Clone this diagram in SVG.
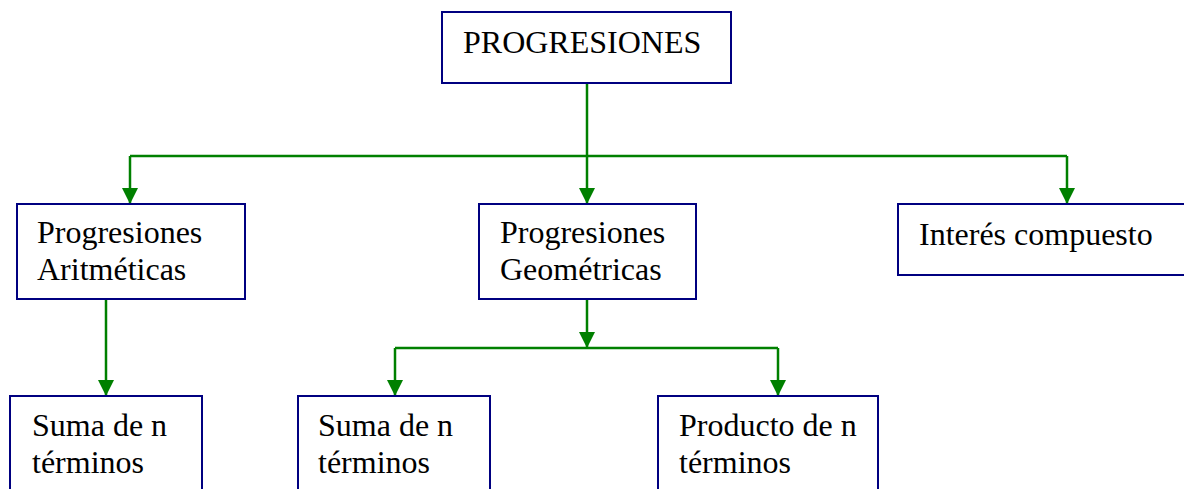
<svg xmlns="http://www.w3.org/2000/svg" width="1184" height="489" viewBox="0 0 1184 489">
<style>
.box{fill:#fff;stroke:#000080;stroke-width:2}
.t{font-family:"Liberation Serif",serif;font-size:32px;fill:#000}
.c{fill:none;stroke:#008000;stroke-width:2.5}
</style>
<defs>
<marker id="ah" viewBox="0 0 16 16" refX="16" refY="8" markerWidth="16" markerHeight="16" markerUnits="userSpaceOnUse" orient="auto">
<path d="M0,0 L16,8 L0,16 Z" fill="#008000"/>
</marker>
</defs>
<rect width="1184" height="489" fill="#fff"/>
<g id="connectors">
<line class="c" x1="587" y1="83" x2="587" y2="204" marker-end="url(#ah)"/>
<line class="c" x1="130" y1="156" x2="1067" y2="156"/>
<line class="c" x1="130" y1="156" x2="130" y2="204" marker-end="url(#ah)"/>
<line class="c" x1="1067" y1="156" x2="1067" y2="204" marker-end="url(#ah)"/>
<line class="c" x1="106" y1="299" x2="106" y2="396" marker-end="url(#ah)"/>
<line class="c" x1="587" y1="299" x2="587" y2="348" marker-end="url(#ah)"/>
<line class="c" x1="395" y1="348" x2="778" y2="348"/>
<line class="c" x1="395" y1="348" x2="395" y2="396" marker-end="url(#ah)"/>
<line class="c" x1="778" y1="348" x2="778" y2="396" marker-end="url(#ah)"/>
</g>
<g id="n-progresiones">
<rect class="box" x="442" y="12" width="289" height="71"/>
<text class="t" x="463" y="53">PROGRESIONES</text>
</g>
<g id="n-aritmeticas">
<rect class="box" x="17" y="204" width="228" height="95"/>
<text class="t" x="37" y="243">Progresiones</text>
<text class="t" x="37" y="280">Aritméticas</text>
</g>
<g id="n-geometricas">
<rect class="box" x="479" y="204" width="217" height="95"/>
<text class="t" x="500" y="243">Progresiones</text>
<text class="t" x="500" y="280">Geométricas</text>
</g>
<g id="n-interes">
<rect class="box" x="898" y="204" width="290" height="71"/>
<text class="t" x="919" y="245">Interés compuesto</text>
</g>
<g id="n-suma-a">
<rect class="box" x="10" y="396" width="192" height="100"/>
<text class="t" x="32" y="436">Suma de n</text>
<text class="t" x="32" y="473">términos</text>
</g>
<g id="n-suma-g">
<rect class="box" x="298" y="396" width="192" height="100"/>
<text class="t" x="318" y="436">Suma de n</text>
<text class="t" x="318" y="473">términos</text>
</g>
<g id="n-producto">
<rect class="box" x="658" y="396" width="220" height="100"/>
<text class="t" x="679" y="436">Producto de n</text>
<text class="t" x="679" y="473">términos</text>
</g>
</svg>
